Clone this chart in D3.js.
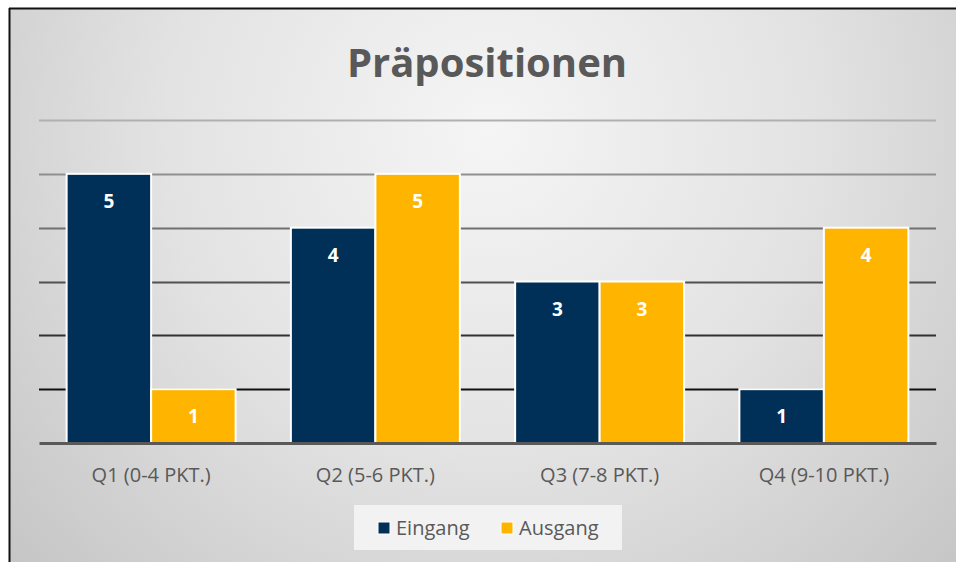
<!DOCTYPE html>
<html><head><meta charset="utf-8">
<script src="https://cdn.jsdelivr.net/npm/d3@7"></script>
<style>html,body{margin:0;padding:0;background:#fff;}svg{display:block;}</style>
</head><body>
<script>
const categories = ["Q1 (0-4 PKT.)", "Q2 (5-6 PKT.)", "Q3 (7-8 PKT.)", "Q4 (9-10 PKT.)"];
const seriesNames = ["Eingang", "Ausgang"];
const eingang = [5, 4, 3, 1];
const ausgang = [1, 5, 3, 4];
const yTicks = [0, 1, 2, 3, 4, 5, 6];
const title = "Präpositionen";

const W = 956, H = 562;
const colors = {"Eingang": "#003057", "Ausgang": "#FFB500"};
const svg = d3.select("body").append("svg").attr("width", W).attr("height", H);

const defs = svg.append("defs");
const rg = defs.append("radialGradient").attr("id", "bg")
  .attr("gradientUnits", "userSpaceOnUse")
  .attr("cx", 490).attr("cy", 130).attr("r", 640);
rg.append("stop").attr("offset", "0%").attr("stop-color", "#f5f5f5");
rg.append("stop").attr("offset", "50%").attr("stop-color", "#e3e3e3");
rg.append("stop").attr("offset", "100%").attr("stop-color", "#c6c6c6");

svg.append("rect").attr("x", 9).attr("y", 8).attr("width", W).attr("height", H)
  .attr("fill", "url(#bg)");
svg.append("line").attr("x1", 9).attr("x2", W).attr("y1", 8.5).attr("y2", 8.5)
  .attr("stroke", "#111").attr("stroke-width", 2);
svg.append("line").attr("x1", 9.5).attr("x2", 9.5).attr("y1", 8).attr("y2", H)
  .attr("stroke", "#111").attr("stroke-width", 2);

const plot = {left: 39, right: 936, top: 120, bottom: 443};
const x0 = d3.scaleBand().domain(categories).range([plot.left, plot.right]).paddingInner(0).paddingOuter(0);
const x1 = d3.scaleBand().domain(seriesNames).range([0, x0.bandwidth()]).paddingOuter(0.327).paddingInner(0);
const y = d3.scaleLinear().domain([0, 6]).range([plot.bottom, plot.top]);

const gridColor = d3.scaleLinear().domain([1, 6]).range(["#111111", "#b0b0b0"]);
svg.append("g").selectAll("line").data(yTicks.filter(t => t > 0)).join("line")
  .attr("x1", plot.left).attr("x2", plot.right)
  .attr("y1", d => Math.round(y(d)) + 0.5).attr("y2", d => Math.round(y(d)) + 0.5)
  .attr("stroke", d => gridColor(d)).attr("stroke-width", 2);

const rows = categories.map((c, i) => ({cat: c, vals: [
  {name: "Eingang", v: eingang[i]}, {name: "Ausgang", v: ausgang[i]}]}));

const groups = svg.append("g").selectAll("g").data(rows).join("g")
  .attr("transform", d => `translate(${x0(d.cat)},0)`);
groups.selectAll("rect").data(d => d.vals).join("rect")
  .attr("x", d => x1(d.name)).attr("width", x1.bandwidth())
  .attr("y", d => y(d.v)).attr("height", d => y(0) - y(d.v))
  .attr("fill", d => colors[d.name]).attr("stroke", "#fff").attr("stroke-width", 2);
groups.selectAll("text").data(d => d.vals).join("text")
  .attr("x", d => x1(d.name) + x1.bandwidth() / 2)
  .attr("y", d => y(d.v) + 34)
  .attr("text-anchor", "middle")
  .attr("font-family", "Open Sans, sans-serif").attr("font-weight", "bold")
  .attr("font-size", 19).attr("fill", "#fff")
  .text(d => d.v);

const xAxis = d3.axisBottom(x0).tickSize(0).tickPadding(25);
const gx = svg.append("g").attr("transform", `translate(0,${plot.bottom})`).call(xAxis);
gx.select(".domain").attr("stroke", "#595959").attr("stroke-width", 3);
gx.selectAll("text").attr("font-family", "Open Sans, sans-serif").attr("font-size", 20)
  .attr("fill", "#595959");

svg.append("text").attr("x", 487).attr("y", 77).attr("text-anchor", "middle")
  .attr("font-family", "Open Sans, sans-serif").attr("font-weight", "bold")
  .attr("font-size", 40).attr("fill", "#595959").text(title);

const lg = svg.append("g");
lg.append("rect").attr("x", 354).attr("y", 505).attr("width", 268).attr("height", 45).attr("fill", "#f2f2f2");
const items = lg.selectAll("g").data(seriesNames).join("g")
  .attr("transform", (d, i) => `translate(${i === 0 ? 378 : 501},528)`);
items.append("rect").attr("x", 0).attr("y", -6).attr("width", 12).attr("height", 12)
  .attr("fill", d => colors[d]).attr("stroke", "#fff").attr("stroke-width", 1);
items.append("text").attr("x", 18).attr("y", 7)
  .attr("font-family", "Open Sans, sans-serif").attr("font-size", 20).attr("fill", "#595959")
  .text(d => d);
</script>
</body></html>
